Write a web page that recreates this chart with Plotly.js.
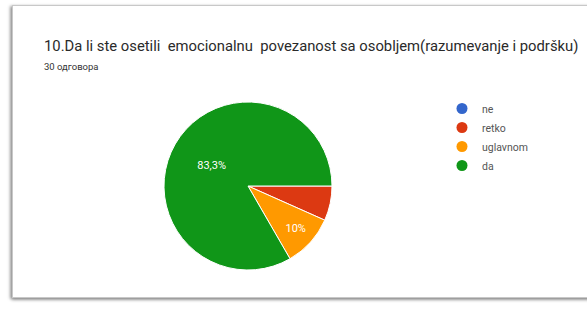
<!DOCTYPE html>
<html>
<head>
<meta charset="utf-8">
<script src="https://cdn.plot.ly/plotly-3.0.1.min.js"></script>
<style>
  html, body { margin:0; padding:0; background:#fff; width:587px; height:311px; overflow:hidden; }
  #card { position:absolute; left:12px; top:5px; width:600px; height:291px; background:#fff;
          border:1px solid #c8c8c8; box-shadow:-2px 1px 3px rgba(0,0,0,0.35), 0 2px 3px rgba(0,0,0,0.25); }
  #chart { position:absolute; left:0; top:0; width:587px; height:311px; }
</style>
</head>
<body>
<div id="card"></div>
<div id="chart"></div>
<script>
// Data
const labels = ['ne', 'retko', 'uglavnom', 'da'];
const values = [0, 2, 3, 25];
const colors = ['#3366cc', '#dc3912', '#ff9900', '#109618'];
const sliceText = ['', '', '%{percent:.1~%}', '%{percent:.1~%}'];
const titleText = '10.Da li ste osetili\u00a0 emocionalnu\u00a0 povezanost sa osobljem(razumevanje i podršku)';
const subtitleText = '30 одговора';

const W = 587, H = 311;
const traces = [{
  type: 'pie',
  labels: labels,
  values: values,
  sort: false,
  direction: 'clockwise',
  rotation: 90,
  marker: { colors: colors, line: { color: '#ffffff', width: 1 } },
  texttemplate: sliceText,
  textposition: 'inside',
  insidetextorientation: 'horizontal',
  textfont: { color: '#ffffff', size: 11, family: 'Roboto, Arial, sans-serif' },
  showlegend: false,
  hoverinfo: 'none',
  domain: { x: [164 / W, 332 / W], y: [1 - 270 / H, 1 - 102 / H] }
}];
labels.forEach((lab, i) => {
  traces.push({
    type: 'scatter', mode: 'markers', x: [null], y: [null], name: lab,
    marker: { color: colors[i], size: 11, symbol: 'circle' }, showlegend: true
  });
});

const layout = {
  width: W, height: H,
  margin: { l: 0, r: 0, t: 0, b: 0 },
  paper_bgcolor: 'rgba(0,0,0,0)',
  plot_bgcolor: 'rgba(0,0,0,0)',
  separators: ', ',
  xaxis: { visible: false }, yaxis: { visible: false },
  font: { family: 'Roboto, Arial, sans-serif' },
  legend: {
    x: 442 / W, y: 1 - 94 / H, xanchor: 'left', yanchor: 'top',
    font: { size: 10.5, color: '#555' }, bgcolor: 'rgba(0,0,0,0)', itemwidth: 30
  },
  annotations: [
    { text: titleText, xref: 'paper', yref: 'paper', x: 42 / W, y: 1 - 46 / H,
      xanchor: 'left', yanchor: 'middle', showarrow: false,
      font: { size: 14.8, color: '#2a2a2a' } },
    { text: subtitleText, xref: 'paper', yref: 'paper', x: 42 / W, y: 1 - 66 / H,
      xanchor: 'left', yanchor: 'middle', showarrow: false,
      font: { size: 9.5, color: '#333' } }
  ]
};
Plotly.newPlot('chart', traces, layout, { displayModeBar: false, staticPlot: true });
</script>
</body>
</html>
